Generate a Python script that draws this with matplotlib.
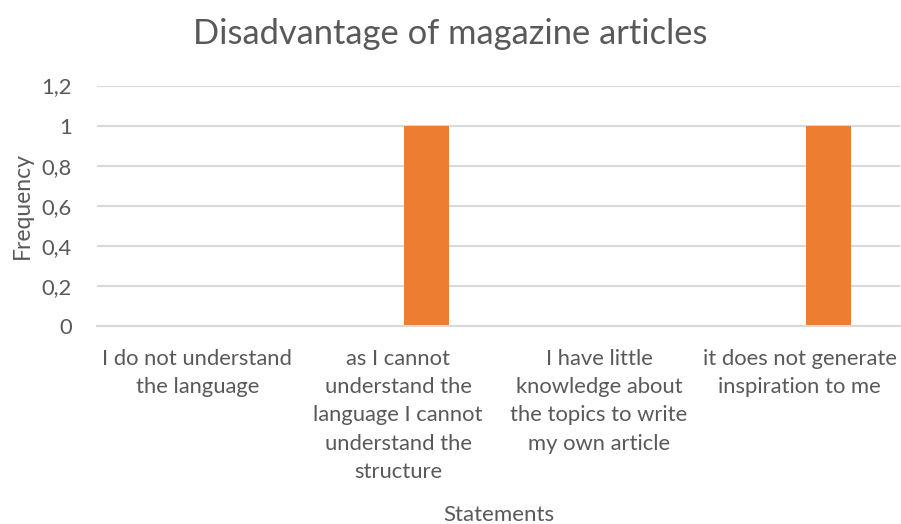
import numpy as np
import matplotlib.pyplot as plt

# Chart data
categories = [
    "I do not understand\nthe language",
    "as I cannot\nunderstand the\nlanguage I cannot\nunderstand the\nstructure",
    "I have little\nknowledge about\nthe topics to write\nmy own article",
    "it does not generate\ninspiration to me",
]
series1 = [0, 0, 0, 0]
series2 = [0, 1, 0, 1]
yticks = [0, 0.2, 0.4, 0.6, 0.8, 1, 1.2]
ytick_labels = ["0", "0,2", "0,4", "0,6", "0,8", "1", "1,2"]

plt.rcParams['font.family'] = ['Lato', 'DejaVu Sans']
text_color = '#595959'
grid_color = '#D9D9D9'

fig = plt.figure(figsize=(9.01, 5.24), dpi=100)
ax = fig.add_axes([0.1077, 0.3773, 0.8913, 0.4595])

x = np.arange(len(categories))
w = 0.224
off = w / 2 * 1.27
ax.bar(x - off, series1, w, color='#4472C4')
ax.bar(x + off, series2, w, color='#ED7D31')

ax.set_xlim(-0.5, len(categories) - 0.5)
ax.set_ylim(0, 1.2)
ax.set_yticks(yticks)
ax.set_yticklabels(ytick_labels)
ax.set_xticks(x)
ax.set_xticklabels(categories, linespacing=1.53)

ax.yaxis.grid(True, color=grid_color, linewidth=1.5)
ax.set_axisbelow(True)
for s in ['top', 'right', 'left']:
    ax.spines[s].set_visible(False)
ax.spines['bottom'].set_color(grid_color)
ax.spines['bottom'].set_linewidth(1.5)
ax.tick_params(axis='both', length=0, labelsize=15.8, colors=text_color)
ax.tick_params(axis='y', pad=18)
ax.tick_params(axis='x', pad=16)

ax.set_ylabel("Frequency", fontsize=16.5, color=text_color, labelpad=6)
ax.set_xlabel("Statements", fontsize=16, color=text_color, labelpad=16)
fig.text(0.5, 0.935, "Disadvantage of magazine articles", ha='center', va='center',
         fontsize=24.8, color=text_color)

fig.savefig("out.png", dpi=100)
